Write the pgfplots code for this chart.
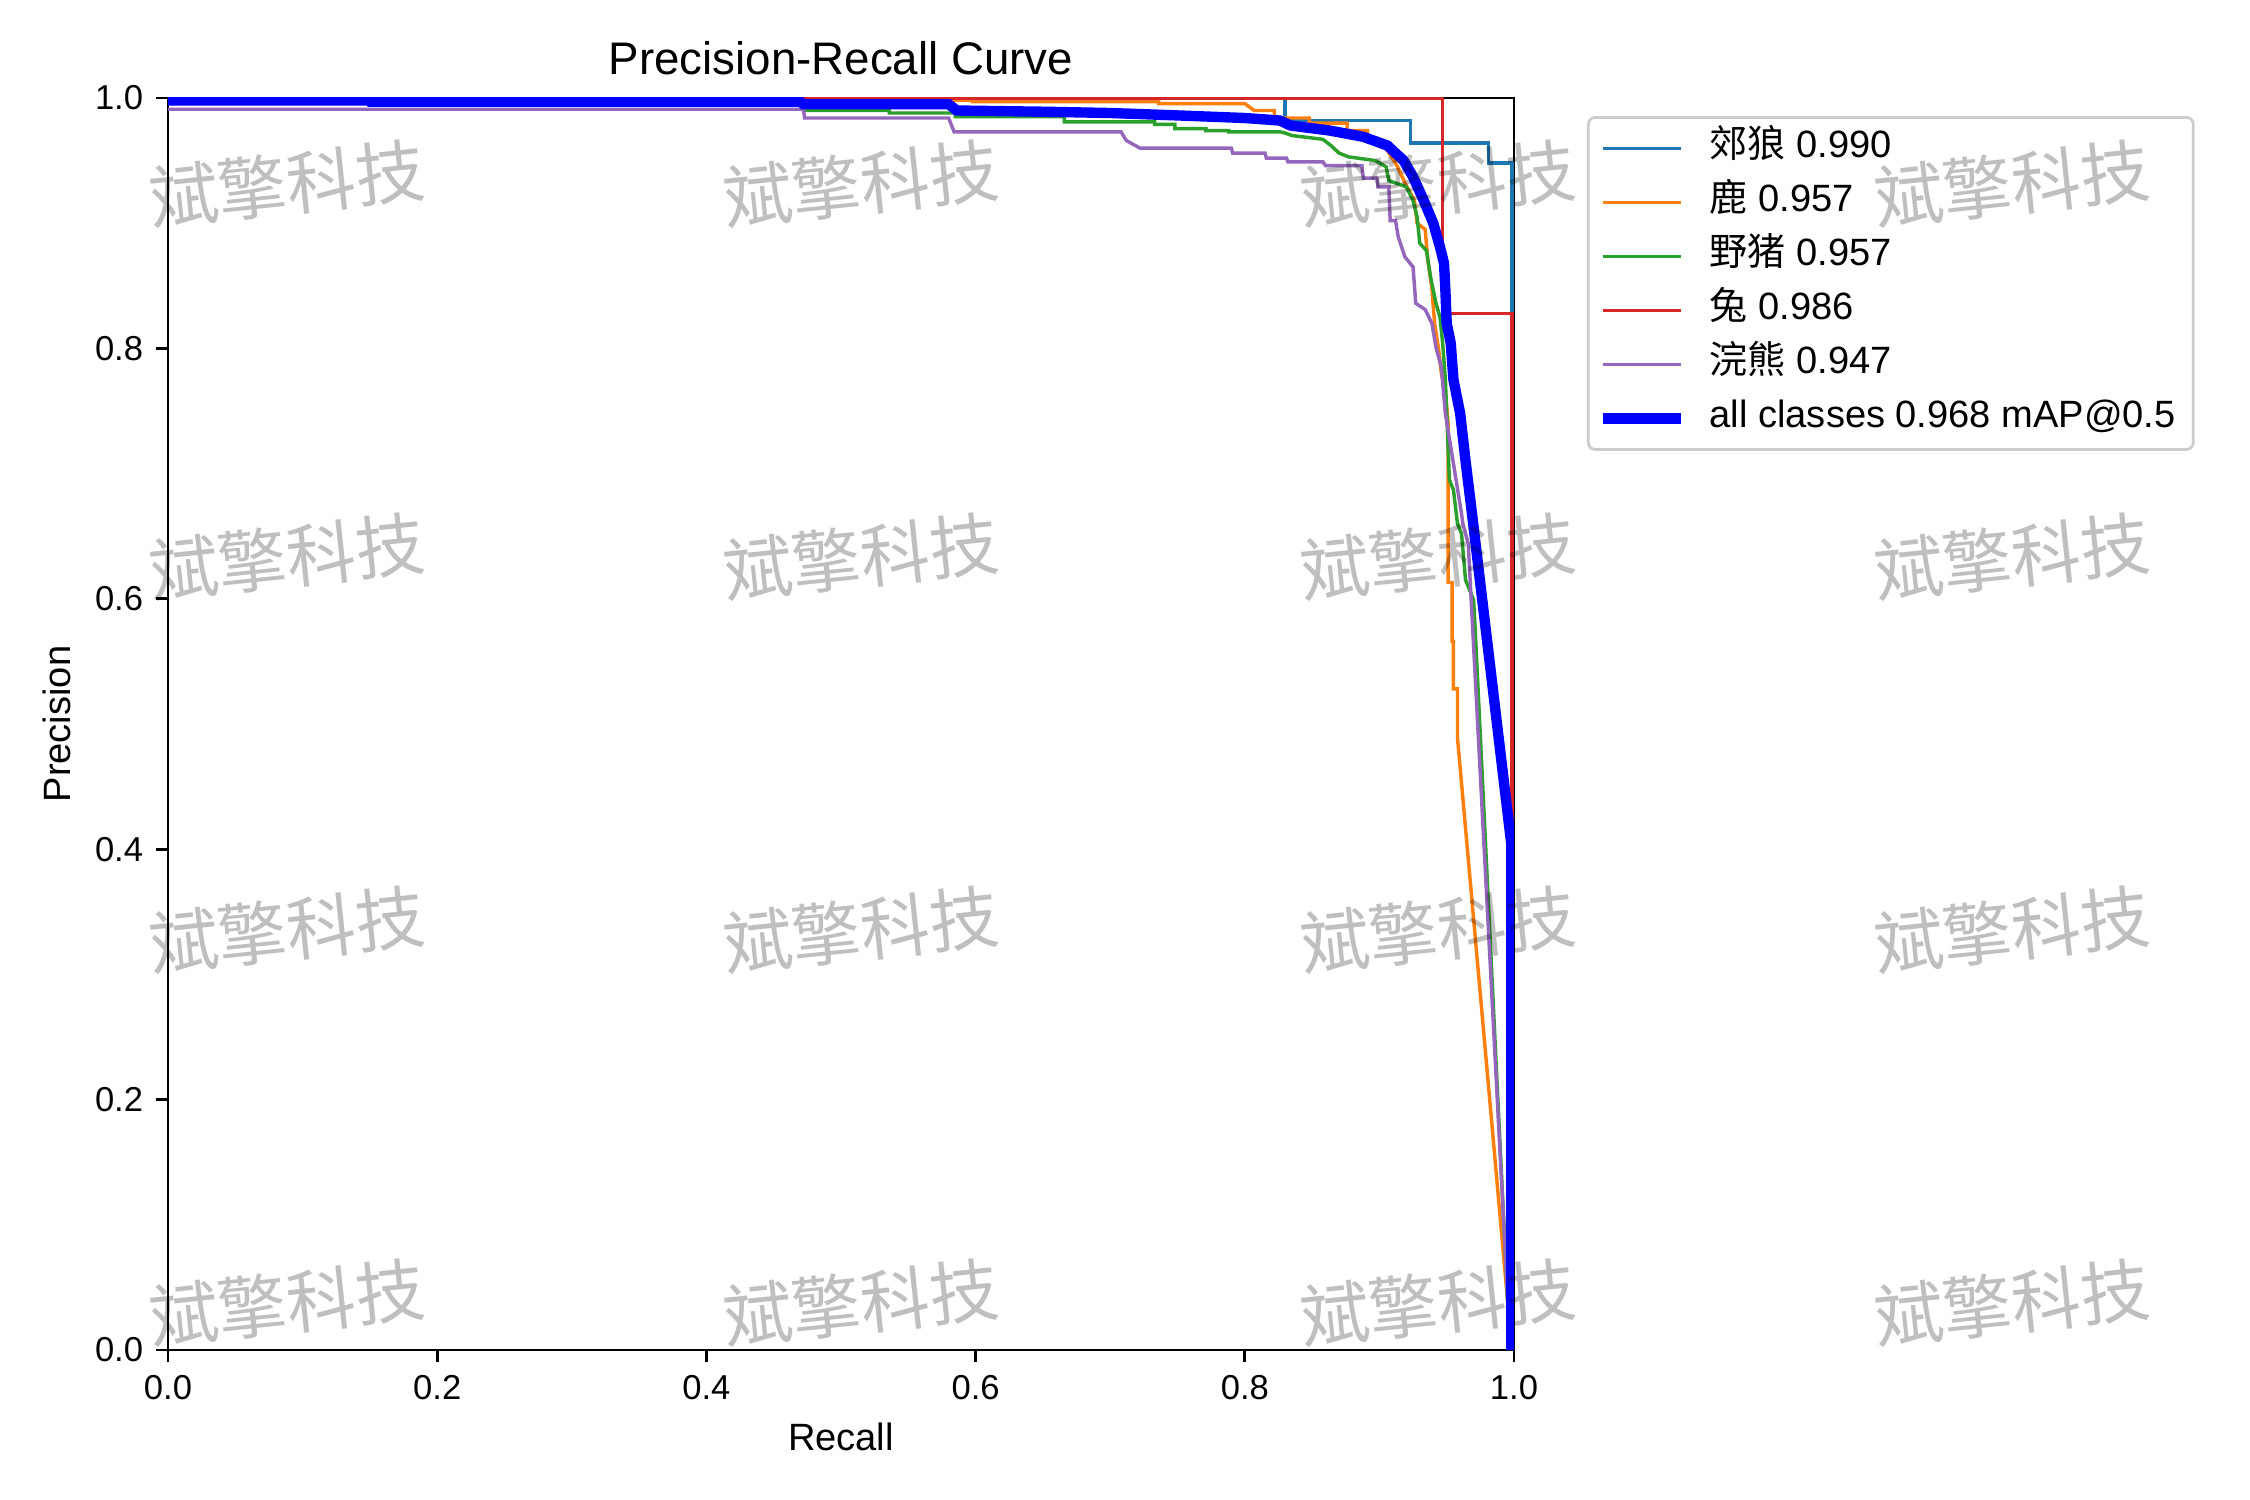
\documentclass[border=0pt]{standalone}
\usepackage{fontspec}
\setmainfont{Liberation Sans}
\newfontfamily\cjk{Noto Sans CJK SC}
\usepackage{pgfplots}
\pgfplotsset{compat=1.18}

\definecolor{c0}{HTML}{1F77B4}
\definecolor{c1}{HTML}{FF7F0E}
\definecolor{c2}{HTML}{2CA02C}
\definecolor{c3}{HTML}{D62728}
\definecolor{c4}{HTML}{9467BD}
\definecolor{legframe}{HTML}{CCCCCC}

\begin{document}
\begin{tikzpicture}
\useasboundingbox (-0.672in,-0.6in) rectangle (8.328in,5.4in);
\begin{axis}[
  at={(0,0)}, anchor=south west,
  width=5.384in, height=5.008in, scale only axis,
  xmin=0, xmax=1, ymin=0, ymax=1,
  axis line style={line width=0.8pt, black},
  xtick={0,0.2,0.4,0.6,0.8,1.0},
  ytick={0,0.2,0.4,0.6,0.8,1.0},
  xticklabels={0.0,0.2,0.4,0.6,0.8,1.0},
  yticklabels={0.0,0.2,0.4,0.6,0.8,1.0},
  xtick pos=left, ytick pos=left,
  tick align=outside, major tick length=3.5pt,
  tick style={line width=0.8pt, black},
  xticklabel style={inner sep=0pt, anchor=north, yshift=-3.7pt},
  yticklabel style={inner sep=0pt, anchor=east, xshift=-3.5pt},
  legend style={
    at={(1.0542,0.9856)}, anchor=north west,
    draw=legframe, line width=0.8pt, rounded corners=2pt, fill=white,
    inner xsep=2.6pt, inner ysep=3.7pt,
    row sep=5pt,
    font=\fontsize{11}{13}\selectfont,
    nodes={inner sep=0pt, text height=8pt, text depth=2.6pt},
  },
  legend cell align=left,
  legend image code/.code={\draw[#1] (0pt,0pt) -- (22.75pt,0pt); \path (29.5pt,0pt);},
  no marks,
]
% per-class curves
\addplot[c0, line width=1pt] coordinates {
  (0,1.0) (0.830,1.0) (0.830,0.982) (0.923,0.982) (0.923,0.964)
  (0.981,0.964) (0.981,0.948) (0.9985,0.948) (0.9985,0.0)
};
\addlegendentry{{\cjk 郊狼} 0.990}
\addplot[c1, line width=1pt] coordinates {
  (0,0.998) (0.598,0.998) (0.598,0.997) (0.736,0.997) (0.736,0.9955)
  (0.800,0.9955) (0.807,0.990) (0.822,0.990) (0.822,0.984) (0.848,0.984)
  (0.848,0.980) (0.876,0.980) (0.876,0.974) (0.891,0.974) (0.891,0.971)
  (0.897,0.967) (0.906,0.958) (0.913,0.946) (0.920,0.930) (0.926,0.918)
  (0.928,0.900) (0.934,0.895) (0.936,0.870) (0.939,0.848) (0.941,0.820)
  (0.944,0.799) (0.946,0.780) (0.949,0.766) (0.951,0.740)
  (0.951,0.613) (0.954,0.613) (0.954,0.566) (0.955,0.566)
  (0.955,0.528) (0.958,0.528) (0.958,0.489) (0.9985,0.0)
};
\addlegendentry{{\cjk 鹿} 0.957}
\addplot[c2, line width=1pt] coordinates {
  (0,0.998) (0.474,0.998) (0.474,0.990) (0.536,0.990) (0.536,0.988)
  (0.585,0.988) (0.585,0.985) (0.666,0.985) (0.666,0.981) (0.733,0.981)
  (0.733,0.979) (0.748,0.979) (0.748,0.9755) (0.771,0.9755) (0.771,0.974)
  (0.788,0.974) (0.788,0.973) (0.826,0.973) (0.830,0.972) (0.835,0.970)
  (0.858,0.967) (0.864,0.962) (0.870,0.956) (0.877,0.953) (0.897,0.950)
  (0.905,0.945) (0.907,0.934) (0.920,0.929) (0.925,0.918) (0.928,0.905)
  (0.930,0.884) (0.935,0.878) (0.938,0.857) (0.942,0.836) (0.945,0.825)
  (0.947,0.804) (0.949,0.775) (0.952,0.695) (0.955,0.687)
  (0.958,0.660) (0.961,0.652) (0.964,0.615) (0.970,0.599) (0.9715,0.568)
  (0.997,0.0)
};
\addlegendentry{{\cjk 野猪} 0.957}
\addplot[c3, line width=1pt] coordinates {
  (0,1.0) (0.947,1.0) (0.947,0.828) (0.9985,0.828) (0.9985,0.0)
};
\addlegendentry{{\cjk 兔} 0.986}
\addplot[c4, line width=1pt] coordinates {
  (0,0.991) (0.472,0.991) (0.473,0.984) (0.580,0.984) (0.584,0.973)
  (0.708,0.973) (0.712,0.966) (0.722,0.960) (0.790,0.960) (0.791,0.956)
  (0.815,0.956) (0.816,0.952) (0.831,0.952) (0.832,0.949) (0.858,0.949)
  (0.860,0.946) (0.887,0.946) (0.888,0.936) (0.898,0.936) (0.899,0.929)
  (0.907,0.929) (0.908,0.902) (0.912,0.902) (0.914,0.889) (0.919,0.873)
  (0.925,0.865) (0.927,0.836) (0.934,0.831) (0.939,0.820) (0.942,0.801)
  (0.946,0.785) (0.949,0.748) (0.961,0.668) (0.962,0.660) (0.966,0.644)
  (0.9973,0.0)
};
\addlegendentry{{\cjk 浣熊} 0.947}
% mean over all classes
\addplot[blue, line width=3pt] coordinates {
  (0,0.998) (0.152,0.998) (0.152,0.997) (0.470,0.997) (0.472,0.995)
  (0.580,0.995) (0.586,0.990) (0.652,0.989) (0.700,0.988) (0.752,0.986)
  (0.800,0.984) (0.826,0.982) (0.834,0.978) (0.863,0.974) (0.888,0.969)
  (0.906,0.962) (0.918,0.950) (0.925,0.937) (0.933,0.918) (0.940,0.900)
  (0.945,0.881) (0.948,0.868) (0.949,0.847) (0.950,0.820) (0.953,0.804)
  (0.955,0.775) (0.960,0.748) (0.964,0.710) (0.968,0.675) (0.998,0.404)
  (0.998,0.0)
};
\addlegendentry{all classes 0.968 mAP@0.5\kern2.5pt}
\end{axis}
% titles and axis labels
\node[anchor=base, font=\fontsize{13.2}{15.8}\selectfont] at (2.692in,5.1in) {Precision-Recall Curve};
\node[anchor=base, font=\fontsize{11}{13}\selectfont] at (2.692in,-0.4in) {Recall};
\node[rotate=90, anchor=center, font=\fontsize{11}{13}\selectfont] at (-0.444in,2.504in) {Precision};
% watermark grid
\foreach \wy in {4.664,3.172,1.68,0.188}{
  \foreach \wx in {0.476,2.772,5.08,7.376}{
    \node[rotate=6, text=black, text opacity=0.25, font=\cjk\fontsize{20}{24}\selectfont]
      at (\wx in,\wy in) {斌擎科技};
  }
}
\end{tikzpicture}
\end{document}
